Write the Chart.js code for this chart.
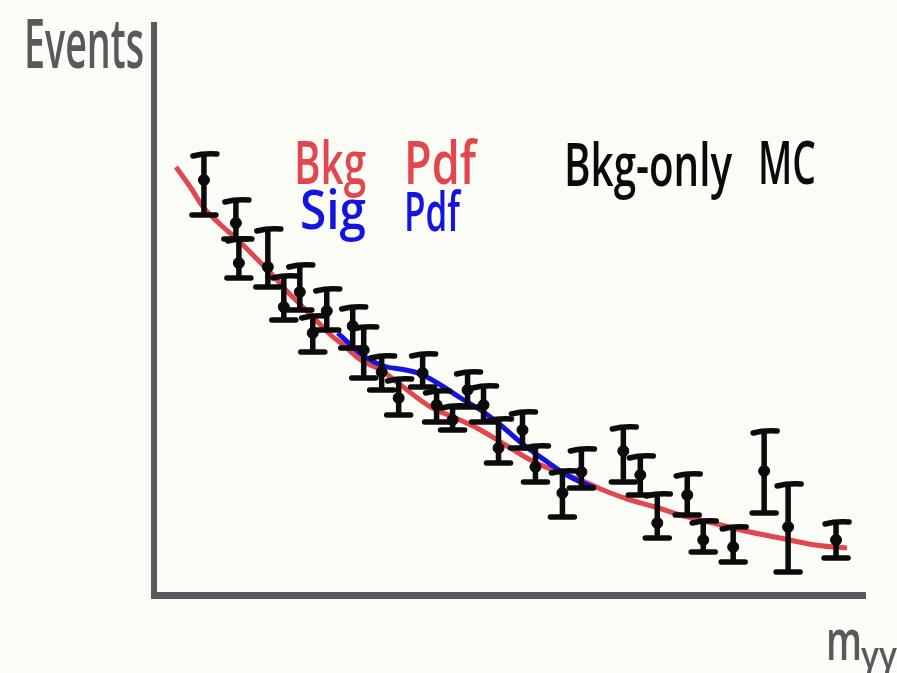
<!DOCTYPE html>
<html>
<head>
<meta charset="utf-8">
<script src="https://cdn.jsdelivr.net/npm/chart.js@4.4.1/dist/chart.umd.min.js"></script>
<style>
  html, body { margin: 0; padding: 0; background: #fcfcf6; }
  #wrap { width: 897px; height: 673px; position: relative; }
</style>
</head>
<body>
<div id="wrap"><canvas id="c" width="897" height="673"></canvas></div>
<script>
// ---- data (arbitrary units: mass bin, events) ----
const massBins   = [50, 82, 85, 114, 130, 146, 159, 173, 199, 210, 228, 245, 269, 283, 299, 314, 330, 345, 369, 382, 409, 428, 470, 487, 504, 534, 550, 580, 611, 635, 683];
const mcEvents   = [415, 372, 332, 328, 288, 303, 262, 284, 269, 245, 223, 197, 222, 190, 175, 205, 190, 147, 165, 128, 102, 123, 144, 120, 72, 100, 55, 48, 124, 68, 55];
const mcErrHigh  = [440, 394, 355, 365, 318, 329, 278, 305, 287, 267, 238, 215, 240, 203, 188, 222, 208, 175, 182, 148, 123, 145, 167, 138, 100, 120, 73, 67, 163, 110, 72];
const mcErrLow   = [380, 356, 317, 308, 275, 285, 243, 265, 247, 217, 205, 180, 208, 173, 165, 188, 173, 132, 147, 113, 78, 107, 113, 100, 57, 80, 43, 33, 82, 23, 37];

const bkgPdfX = [22, 37, 50, 67, 84, 102, 117, 132, 147, 162, 177, 192, 207, 227, 247, 277, 302, 327, 352, 377, 402, 427, 452, 477, 502, 527, 560, 592, 627, 662, 694];
const bkgPdfY = [428, 407, 387, 370, 355, 337, 322, 305, 290, 275, 260, 248, 235, 225, 210, 188, 177, 165, 150, 135, 124, 115, 104, 95, 88, 80, 72, 64, 57, 50, 47];

const sigPdfX = [184, 197, 210, 230, 252, 267, 287, 307, 330, 347, 362, 377, 394, 410, 427, 442];
const sigPdfY = [262, 250, 239, 229, 225, 221, 210, 197, 183, 170, 157, 145, 133, 122, 113, 107];

const xRange = [0, 712];
const yRange = [0, 570];

const labels = {
  yTitle: 'Events',
  xTitle: 'm',
  xSub: 'γγ',
  bkg: ['Bkg', 'Pdf'],
  sig: ['Sig', 'Pdf'],
  mc: ['Bkg-only', 'MC']
};

const toPts = (xs, ys) => xs.map((x, i) => ({ x: x, y: ys[i] }));

const RED = '#e2474f';
const BLUE = '#1414e0';
const INK = '#0b0b0b';
const AXIS = '#59595b';

const errorBars = {
  id: 'errorBars',
  afterDatasetsDraw(chart) {
    const ctx = chart.ctx;
    const xs = chart.scales.x, ys = chart.scales.y;
    ctx.save();
    ctx.strokeStyle = INK;
    ctx.lineCap = 'round';
    ctx.lineWidth = 5.5;
    massBins.forEach((m, i) => {
      const px = xs.getPixelForValue(m);
      const pHi = ys.getPixelForValue(mcErrHigh[i]);
      const pLo = ys.getPixelForValue(mcErrLow[i]);
      ctx.beginPath();
      ctx.moveTo(px, pHi); ctx.lineTo(px, pLo);
      ctx.moveTo(px - 11, pHi + 1); ctx.quadraticCurveTo(px, pHi - 2, px + 13, pHi - 1);
      ctx.moveTo(px - 12, pLo); ctx.lineTo(px + 12, pLo);
      ctx.stroke();
    });
    ctx.restore();
  }
};

const textLayer = {
  id: 'textLayer',
  afterDraw(chart) {
    const ctx = chart.ctx;
    ctx.save();
    ctx.textBaseline = 'alphabetic';
    ctx.fillStyle = AXIS;
    ctx.font = '600 68px "Open Sans", sans-serif';
    ctx.fillText(labels.yTitle, 24, 68, 120);
    ctx.font = '600 56px "Open Sans", sans-serif';
    ctx.fillText(labels.xTitle, 826, 660, 36);
    ctx.font = '600 36px "Open Sans", sans-serif';
    ctx.fillText(labels.xSub, 861, 668, 36);

    ctx.fillStyle = RED;
    ctx.font = '600 60px "Open Sans", sans-serif';
    ctx.fillText(labels.bkg[0], 294, 184, 72);
    ctx.fillText(labels.bkg[1], 404, 184, 72);
    ctx.fillStyle = BLUE;
    ctx.font = '600 54px "Open Sans", sans-serif';
    ctx.fillText(labels.sig[0], 300, 229, 66);
    ctx.fillText(labels.sig[1], 404, 231, 56);
    ctx.fillStyle = INK;
    ctx.font = '600 60px "Open Sans", sans-serif';
    ctx.fillText(labels.mc[0], 564, 186, 168);
    ctx.fillText(labels.mc[1], 758, 184, 58);
    ctx.restore();
  }
};

new Chart(document.getElementById('c'), {
  type: 'scatter',
  data: {
    datasets: [
      {
        label: labels.bkg.join(' '),
        data: toPts(bkgPdfX, bkgPdfY),
        showLine: true,
        borderColor: RED,
        borderWidth: 5,
        pointRadius: 0,
        tension: 0.4,
        order: 3
      },
      {
        label: labels.sig.join(' '),
        data: toPts(sigPdfX, sigPdfY),
        showLine: true,
        borderColor: BLUE,
        borderWidth: 5,
        pointRadius: 0,
        tension: 0.4,
        order: 2
      },
      {
        label: labels.mc.join(' '),
        data: toPts(massBins, mcEvents),
        showLine: false,
        backgroundColor: INK,
        borderColor: INK,
        pointRadius: 5.5,
        order: 1
      }
    ]
  },
  options: {
    responsive: false,
    animation: false,
    layout: { padding: { left: 146, right: 32, top: 25, bottom: 70 } },
    plugins: { legend: { display: false }, tooltip: { enabled: false } },
    scales: {
      x: {
        type: 'linear', min: xRange[0], max: xRange[1],
        grid: { display: false },
        ticks: { display: false },
        border: { display: true, color: AXIS, width: 7 }
      },
      y: {
        type: 'linear', min: yRange[0], max: yRange[1],
        grid: { display: false },
        ticks: { display: false },
        border: { display: true, color: AXIS, width: 6 }
      }
    }
  },
  plugins: [errorBars, textLayer]
});
</script>
</body>
</html>
